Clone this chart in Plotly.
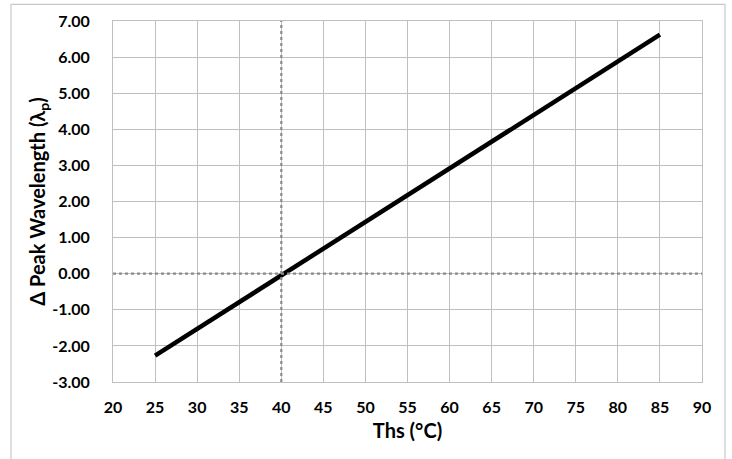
import plotly.graph_objects as go

# Data
ths = [25, 85]
delta_peak = [-2.27, 6.62]
ref_temp = 40
ref_zero = 0
x_ticks = [20, 25, 30, 35, 40, 45, 50, 55, 60, 65, 70, 75, 80, 85, 90]
y_ticks = [-3, -2, -1, 0, 1, 2, 3, 4, 5, 6, 7]

FONT = "Lato"
GRID = "#BFBFBF"

fig = go.Figure()
fig.add_trace(go.Scatter(x=ths, y=delta_peak, mode="lines",
                         line=dict(color="black", width=4.5), showlegend=False))

fig.add_vline(x=ref_temp, line=dict(color="#8C8C8C", width=2.2, dash="dot"))
fig.add_hline(y=ref_zero, line=dict(color="#8C8C8C", width=2.2, dash="dot"))

# outer chart border
fig.add_shape(type="rect", xref="paper", yref="paper",
              x0=-0.1732, x1=1.039, y0=-0.3, y1=1.046,
              line=dict(color="#C8C8C8", width=1.2), fillcolor="rgba(0,0,0,0)")

fig.update_xaxes(range=[20, 90], tickvals=x_ticks, ticktext=[str(v) for v in x_ticks],
                 showgrid=True, gridcolor=GRID, gridwidth=1,
                 showline=True, linecolor=GRID, linewidth=1, mirror=True,
                 zeroline=False, ticks="", ticklabelstandoff=11,
                 tickfont=dict(family=FONT, size=16, color="black", weight="bold"),
                 title=dict(text="<b>Ths (°C)</b>", font=dict(family=FONT, size=20, color="black"),
                            standoff=8))
fig.update_yaxes(range=[-3, 7], tickvals=y_ticks, ticktext=[f"{v:.2f}" for v in y_ticks],
                 showgrid=True, gridcolor=GRID, gridwidth=1,
                 showline=True, linecolor=GRID, linewidth=1, mirror=True,
                 zeroline=False, ticks="", ticklabelstandoff=19,
                 tickfont=dict(family=FONT, size=16, color="black", weight="bold"),
                 title=dict(text="<b>Δ Peak Wavelength (λ<sub>p</sub>)</b>",
                            font=dict(family=FONT, size=20, color="black"), standoff=0))

fig.update_layout(width=732, height=459,
                  margin=dict(l=113, r=30, t=21, b=77),
                  paper_bgcolor="white", plot_bgcolor="white")

fig.write_html("out.html", config={"displayModeBar": False},
               post_script="document.body.style.margin='0';")
